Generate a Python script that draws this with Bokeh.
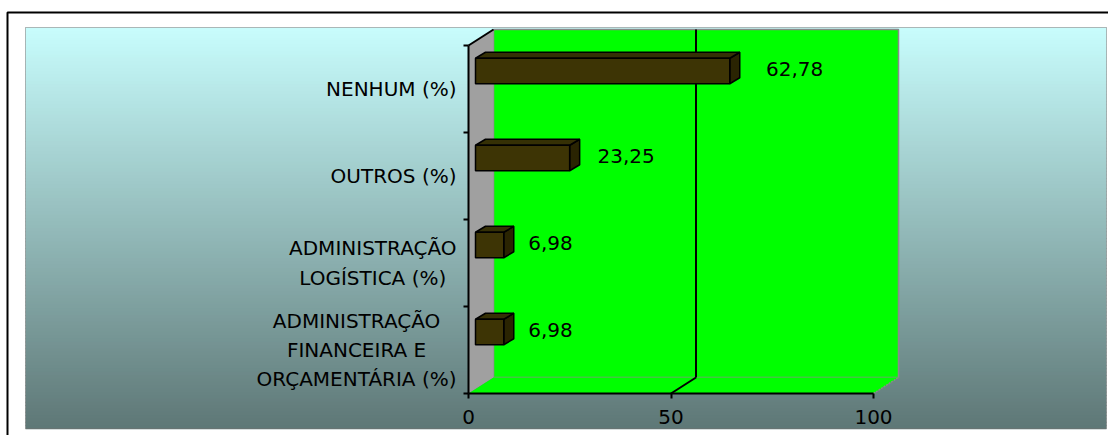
from bokeh.plotting import figure
from bokeh.models import Range1d, LinearAxis, FixedTicker, ColumnDataSource
from bokeh.core.properties import value
from bokeh.embed import file_html
from bokeh.resources import INLINE

# ---- data ----
categories = [
    "ADMINISTRAÇÃO\nFINANCEIRA E\nORÇAMENTÁRIA (%)",
    "ADMINISTRAÇÃO\nLOGÍSTICA (%)",
    "OUTROS (%)",
    "NENHUM (%)",
]
values = [6.98, 6.98, 23.25, 62.78]
value_labels = [f"{v:.2f}".replace(".", ",") for v in values]
x_ticks = [0, 50, 100]
x_tick_labels = ["0", "50", "100"]

# ---- geometry helpers (pixel -> data) ----
W, H = 1108, 435
X0PX, Y0PX = 468, 393      # pixel of data origin
SX, SY = 4.05, 87.0        # pixels per unit


def X(px):
    return (px - X0PX) / SX


def Y(py):
    return (Y0PX - py) / SY


FONT = value("DejaVu Sans")
FS = "20px"
ncat = len(categories)
xmax = 100
DX, DY = 25 / SX, 16 / SY          # wall depth
BX = 7 / SX                        # bar front offset
BDX, BDY = 10 / SX, 6 / SY         # bar depth
BH = 25.5 / SY                     # bar height
BOFF = 18 / SY                     # bar vertical offset

p = figure(width=W, height=H, output_backend="svg", toolbar_location=None,
           x_range=Range1d(X(0), X(W)), y_range=Range1d(Y(H), Y(0)),
           x_axis_location=None, y_axis_location=None, min_border=0)
p.grid.visible = False
p.outline_line_color = None
p.background_fill_color = "white"
p.border_fill_color = "white"

# ---- gradient background ----
top_c = (200, 253, 253)
bot_c = (94, 119, 118)
n = 120
gy0, gy1 = 27, 428
lefts, rights, tops, bottoms, cols = [], [], [], [], []
for i in range(n):
    a = gy0 + (gy1 - gy0) * i / n
    b = gy0 + (gy1 - gy0) * (i + 1) / n
    t = (i + 0.5) / n
    c = tuple(int(round(top_c[k] + (bot_c[k] - top_c[k]) * t)) for k in range(3))
    lefts.append(X(25)); rights.append(X(1106))
    tops.append(Y(a)); bottoms.append(Y(b) - 0.01)
    cols.append("#%02x%02x%02x" % c)
p.quad(left=lefts, right=rights, top=tops, bottom=bottoms, fill_color=cols, line_color=None)

# dotted inner border
p.line([X(25), X(1106), X(1106), X(25), X(25)], [Y(27), Y(27), Y(428), Y(428), Y(27)],
       line_color="#707070", line_width=1, line_dash="1 1")
# black outer border
p.line([X(7), X(7), X(W + 5)], [Y(H + 5), Y(12), Y(12)], line_color="black", line_width=2)

# ---- 3D walls ----
p.patch([DX, xmax + DX, xmax + DX, DX], [DY, DY, ncat + DY, ncat + DY],
        fill_color="#00FF00", line_color="#8a8a8a", line_width=1.5)
p.patch([0, DX, DX, 0], [0, DY, ncat + DY, ncat],
        fill_color="#A0A0A0", line_color=None)
p.patch([0, xmax, xmax + DX, DX], [0, 0, DY, DY],
        fill_color="#00FF00", line_color=None)
p.line([xmax, xmax + DX], [0, DY], line_color="#8a8a8a", line_width=1.5, line_dash="2 1")
p.line([0, DX], [ncat, ncat + DY], line_color="black", line_width=2)

# gridline at 50
p.multi_line([[50, 50 + DX], [50 + DX, 50 + DX]], [[0, DY], [DY, ncat + DY]],
             line_color="black", line_width=2)

# ---- bars ----
front_xs, front_ys, top_xs, top_ys, side_xs, side_ys = [], [], [], [], [], []
for i, v in enumerate(values):
    x0, x1 = BX, v + BX
    yc = i + 0.5 + BOFF
    y0, y1 = yc - BH / 2, yc + BH / 2
    front_xs.append([x0, x1, x1, x0]); front_ys.append([y0, y0, y1, y1])
    top_xs.append([x0, x1, x1 + BDX, x0 + BDX]); top_ys.append([y1, y1, y1 + BDY, y1 + BDY])
    side_xs.append([x1, x1 + BDX, x1 + BDX, x1]); side_ys.append([y0, y0 + BDY, y1 + BDY, y1])
p.patches(side_xs, side_ys, fill_color="#2a2402", line_color="black", line_width=1.5)
p.patches(top_xs, top_ys, fill_color="#353005", line_color="black", line_width=1.5)
p.patches(front_xs, front_ys, fill_color="#3d3405", line_color="black", line_width=1.5)

# value labels
lab_src = ColumnDataSource(dict(
    x=[v * 1.052 + 30 / SX for v in values],
    y=[i + 0.5 + 20 / SY for i in range(ncat)],
    text=value_labels))
p.text(x="x", y="y", text="text", source=lab_src, text_font=FONT,
       text_font_size=FS, text_color="black", text_align="left",
       text_baseline="middle")

# category labels
cat_src = ColumnDataSource(dict(
    x=[-12 / SX] * ncat, y=[i + 0.5 for i in range(ncat)], text=categories))
p.text(x="x", y="y", text="text", source=cat_src, text_font=FONT,
       text_font_size=FS, text_color="black", text_align="center",
       anchor="center_right", text_line_height=1.22)

# ---- axes ----
xaxis = LinearAxis(fixed_location=0, bounds=(0, 100),
                   ticker=FixedTicker(ticks=x_ticks),
                   major_label_overrides={t: l for t, l in zip(x_ticks, x_tick_labels)})
xaxis.axis_line_width = 2
xaxis.axis_line_color = "black"
xaxis.major_tick_line_width = 2
xaxis.major_tick_line_color = "black"
xaxis.major_tick_in = 0
xaxis.major_tick_out = 5
xaxis.minor_tick_line_color = None
xaxis.major_label_standoff = 11
xaxis.major_label_text_font = "DejaVu Sans"
xaxis.major_label_text_font_size = FS
xaxis.major_label_text_color = "black"
p.add_layout(xaxis, "below")

yaxis = LinearAxis(fixed_location=0, bounds=(0, ncat),
                   ticker=FixedTicker(ticks=list(range(ncat + 1))),
                   major_label_overrides={i: "" for i in range(ncat + 1)})
yaxis.axis_line_width = 2
yaxis.axis_line_color = "black"
yaxis.major_tick_line_width = 2
yaxis.major_tick_line_color = "black"
yaxis.major_tick_in = 0
yaxis.major_tick_out = 5
yaxis.minor_tick_line_color = None
yaxis.major_label_text_font_size = "1px"
p.add_layout(yaxis, "left")

open("out.html", "w").write(file_html(p, INLINE))
